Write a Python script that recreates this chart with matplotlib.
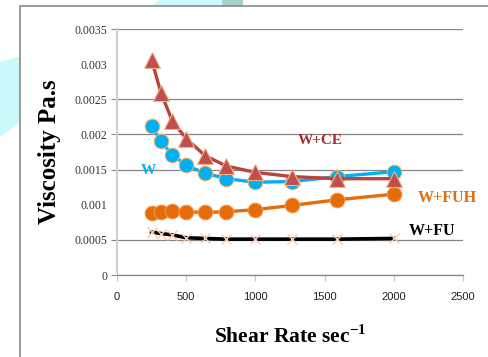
import matplotlib
matplotlib.use("Agg")
import matplotlib.pyplot as plt
from matplotlib.patches import Polygon, Rectangle

plt.rcParams["mathtext.fontset"] = "custom"
plt.rcParams["mathtext.rm"] = "Liberation Serif"
plt.rcParams["mathtext.bf"] = "Liberation Serif:bold"

# shear rate (1/s)
shear = [250, 318, 400, 500, 635, 790, 1000, 1265, 1590, 2000]

visc_w = [0.00212, 0.0019, 0.00171, 0.00156, 0.00145, 0.00137, 0.00132, 0.00133, 0.0014, 0.00147]
visc_ce = [0.00306, 0.00259, 0.00219, 0.00194, 0.0017, 0.00155, 0.00146, 0.0014, 0.00137, 0.00137]
visc_fuh = [0.00088, 0.0009, 0.00091, 0.0009, 0.00089, 0.0009, 0.00093, 0.00099, 0.00107, 0.00115]
visc_fu = [0.00061, 0.00059, 0.00057, 0.00053, 0.00052, 0.00051, 0.00051, 0.00051, 0.00051, 0.00052]

# grid lines at 0.001 and 0.003 are lost in the original picture
yticks_grid = [0, 0.0005, 0.0015, 0.002, 0.0025, 0.0035]
ylabels_grid = ["0", "0.0005", "0.0015", "0.002", "0.0025", "0.0035"]
yticks_plain = [0.001, 0.003]
ylabels_plain = ["0.001", "0.003"]
xticks = [0, 500, 1000, 1500, 2000, 2500]

W, H = 489, 357
fig = plt.figure(figsize=(W / 100, H / 100), dpi=100)

def px(x, y):
    return (x / W, 1 - y / H)

# background decoration (slide style)
fig.patches.append(Polygon([px(0, 62), px(25, 55), px(25, 118), px(0, 137)], closed=True,
                           transform=fig.transFigure, facecolor="#c9f9fb", edgecolor="none", zorder=0))
fig.patches.append(Polygon([px(160, 0), px(222, 0), px(222, 7), px(150, 7)], closed=True,
                           transform=fig.transFigure, facecolor="#c9f9fb", edgecolor="none", zorder=0))
fig.patches.append(Polygon([px(222, 0), px(243, 0), px(243, 7), px(222, 7)], closed=True,
                           transform=fig.transFigure, facecolor="#a9cfd0", edgecolor="none", zorder=0))
fig.patches.append(Rectangle(px(20, 370), 500 / W, 364 / H, transform=fig.transFigure,
                             facecolor="white", edgecolor="#8a8a8a", linewidth=1.2, zorder=1))

ax = fig.add_axes([117 / W, 1 - 275 / H, (463 - 117) / W, (275 - 29) / H])
ax.set_zorder(2)
ax.patch.set_alpha(0)

ax.plot(shear, visc_w, color="#00b0f0", lw=2.4, marker="o", ms=10.5,
        mfc="#00b0f0", mec="#f0b070", mew=0.8, zorder=3)
ax.plot(shear, visc_ce, color="#b9433e", lw=2.4, marker="^", ms=11,
        mfc="#c0504d", mec="#f4b183", mew=0.8, zorder=4)
ax.plot(shear, visc_fuh, color="#e46c0a", lw=2.4, marker="o", ms=10.5,
        mfc="#e46c0a", mec="#f79646", mew=0.8, zorder=3)
ax.plot(shear, visc_fu, color="black", lw=2.6, marker="x", ms=7,
        mec="#f8cbad", mew=1.0, zorder=3)

ax.set_xlim(0, 2500)
ax.set_ylim(0, 0.0035)
ax.set_xticks(xticks)
ax.set_xticklabels([str(t) for t in xticks], fontsize=8, family="Liberation Sans", color="#222222")
ax.set_yticks(yticks_grid)
ax.set_yticklabels(ylabels_grid, fontsize=8.5, family="Liberation Serif", color="#333333")
ax.set_yticks(yticks_plain, minor=True)
ax.set_yticklabels(ylabels_plain, minor=True, fontsize=8.5, family="Liberation Serif", color="#333333")

ax.grid(axis="y", which="major", color="#868686", lw=0.9)
ax.set_axisbelow(True)

for s in ("top", "right"):
    ax.spines[s].set_visible(False)
ax.spines["left"].set_color("#d0d0d0")
ax.spines["left"].set_linewidth(1.5)
ax.spines["bottom"].set_color("#868686")
ax.spines["bottom"].set_linewidth(0.9)
ax.tick_params(axis="x", length=4, color="#c8c8c8", pad=8)
ax.tick_params(axis="y", which="major", length=4, color="#868686", pad=3)
ax.tick_params(axis="y", which="minor", length=0, pad=7)

ax.set_ylabel("Viscosity Pa.s", fontsize=18, fontweight="bold", family="Liberation Serif", labelpad=10)
ax.set_xlabel("Shear Rate sec$^{\\mathbf{-1}}$", fontsize=15.5, fontweight="bold",
              family="Liberation Serif", labelpad=17)

ax.text(1467, 0.00192, "W+CE", color="#a0302b", fontsize=11, fontweight="bold",
        family="Liberation Serif", ha="center", va="center")
ax.text(224, 0.00148, "W", color="#00b0f0", fontsize=11, fontweight="bold",
        family="Liberation Serif", ha="center", va="center")
ax.text(2390, 0.0011, "W+FUH", color="#e46c0a", fontsize=11.5, fontweight="bold",
        family="Liberation Serif", ha="center", va="center", clip_on=False)
ax.text(2276, 0.00062, "W+FU", color="black", fontsize=11.5, fontweight="bold",
        family="Liberation Serif", ha="center", va="center")

fig.savefig("out.png", dpi=100)
